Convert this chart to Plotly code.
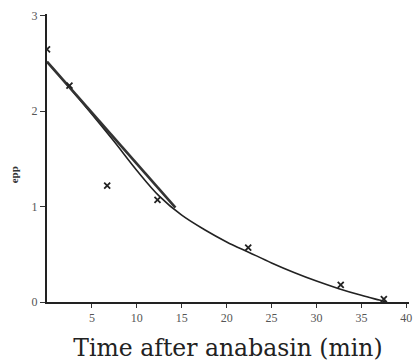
import plotly.graph_objects as go

# Measured points (time in min, value)
pt_x = [0, 2.5, 6.7, 12.3, 22.4, 32.7, 37.5]
pt_y = [2.65, 2.27, 1.22, 1.07, 0.57, 0.18, 0.03]

# Hand-drawn fitted curve
curve_x = [0, 2.5, 5, 7.5, 10, 12.5, 15, 17.5, 20, 22.5, 25, 27.5, 30, 32.5, 35, 37, 37.8]
curve_y = [2.52, 2.25, 1.97, 1.68, 1.38, 1.11, 0.91, 0.76, 0.63, 0.52, 0.41, 0.31, 0.22, 0.14, 0.07, 0.02, 0.0]

# Heavy straight initial segment
seg_x = [0, 14.3]
seg_y = [2.52, 0.99]

x_ticks = [5, 10, 15, 20, 25, 30, 35, 40]
y_ticks = [0, 1, 2, 3]

fig = go.Figure()
fig.add_trace(go.Scatter(x=curve_x, y=curve_y, mode="lines",
                         line=dict(color="#222", width=1.6, shape="spline"),
                         showlegend=False, hoverinfo="skip"))
fig.add_trace(go.Scatter(x=seg_x, y=seg_y, mode="lines",
                         line=dict(color="#333", width=2.6),
                         showlegend=False, hoverinfo="skip"))
fig.add_trace(go.Scatter(x=pt_x, y=pt_y, mode="markers",
                         marker=dict(symbol="x-thin", size=6, color="#222",
                                     line=dict(width=1.8, color="#222")),
                         showlegend=False))

serif = "Liberation Serif, DejaVu Serif, serif"
wide_serif = "DejaVu Serif, serif"
fig.update_layout(
    width=417, height=362,
    margin=dict(l=47, r=8, t=14, b=60),
    plot_bgcolor="white", paper_bgcolor="white",
    font=dict(family=serif, color="#333"),
    xaxis=dict(range=[0, 40.3], tickvals=x_ticks, ticks="outside", ticklen=4,
               tickcolor="#333", showline=True, linecolor="#222", linewidth=2,
               showgrid=False, zeroline=False, automargin=False,
               tickfont=dict(size=12, family=serif, color="#555"),
               title=dict(text="Time after anabasin (min)",
                          font=dict(size=23.5, family=wide_serif, color="#222"),
                          standoff=15)),
    yaxis=dict(range=[0, 3.02], tickvals=y_ticks, ticks="outside", ticklen=5,
               tickcolor="#333", showline=True, linecolor="#222", linewidth=2,
               showgrid=False, zeroline=False, automargin=False,
               tickfont=dict(size=12, family=serif, color="#555")),
    annotations=[dict(text="<b>epp</b>", x=-0.091, y=0.44, xref="paper", yref="paper",
                      showarrow=False, textangle=-90, xanchor="center", yanchor="middle",
                      font=dict(size=11, family=serif, color="#333"))],
)

fig.write_html("out.html", config={"displayModeBar": False},
               post_script="document.body.style.margin='0';document.body.style.overflow='hidden';")
